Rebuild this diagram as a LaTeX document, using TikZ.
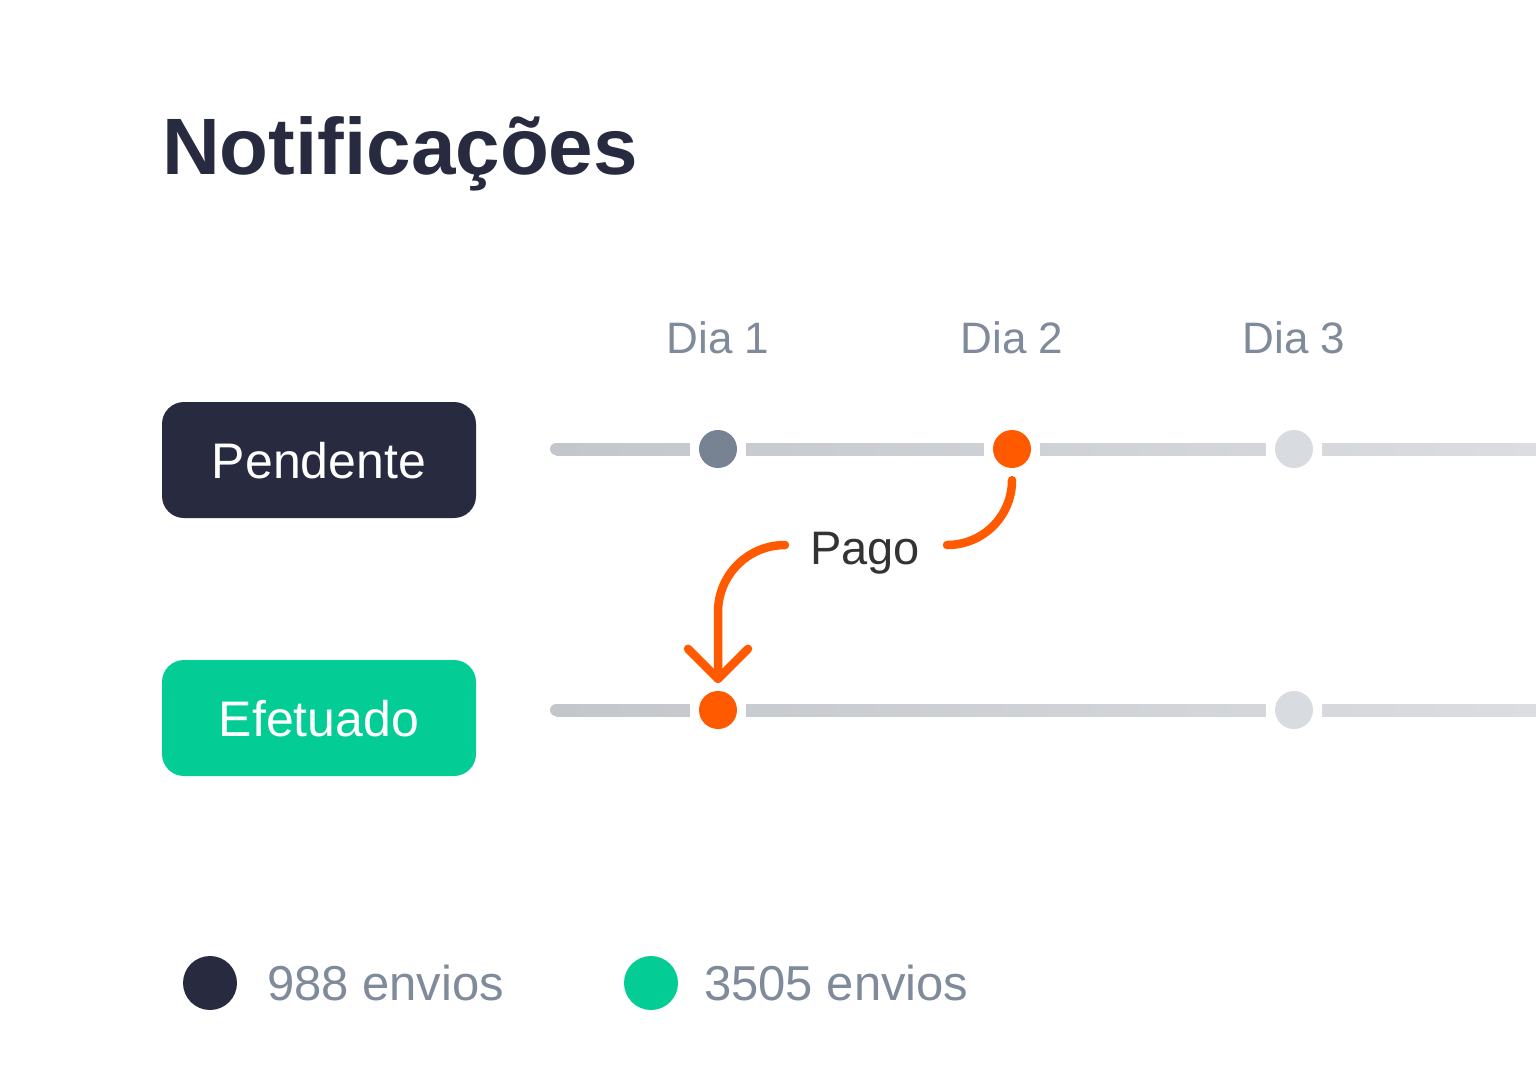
\documentclass[tikz,border=0pt]{standalone}
\usepackage{fontspec}
\setmainfont{Liberation Sans}
\usetikzlibrary{calc}
\definecolor{navy}{HTML}{282B40}
\definecolor{mint}{HTML}{03CD94}
\definecolor{orng}{HTML}{FF5A00}
\definecolor{slate}{HTML}{778292}
\definecolor{lightdot}{HTML}{D8DBDF}
\definecolor{graytext}{HTML}{7F8A9A}
\definecolor{pagotext}{HTML}{333333}
\definecolor{trackL}{HTML}{C3C6CB}
\definecolor{trackR}{HTML}{DBDDE0}
\tikzset{
  status/.style={rounded corners=22pt, minimum width=314pt, minimum height=116pt, inner sep=0pt,
    text=white, font=\fontsize{50}{60}\selectfont, text height=36pt, text depth=0pt},
  tdot/.style={circle, minimum size=38pt, inner sep=0pt, draw=none},
  daylabel/.style={anchor=base, inner sep=0pt, text=graytext, font=\fontsize{44}{52}\selectfont},
  legtext/.style={anchor=base west, inner sep=0pt, text=graytext, font=\fontsize{49}{58}\selectfont},
  legdot/.style={circle, minimum size=54pt, inner sep=0pt, draw=none},
  pay/.style={draw=orng, line width=8.5pt, line cap=round, line join=round},
  gap/.style={fill=white}
}
\begin{document}
\begin{tikzpicture}[x=1pt,y=-1pt]
\useasboundingbox[fill=white] (0,0) rectangle (1536,1080);

% title
\node[anchor=base west, inner sep=0pt, text=navy, font=\fontsize{80}{92}\selectfont\bfseries] (title) at (162,174) {Notificações};

% day labels
\node[daylabel] (dia1) at (718,353) {Dia 1};
\node[daylabel] (dia2) at (1012,353) {Dia 2};
\node[daylabel] (dia3) at (1294,353) {Dia 3};

% status boxes
\node[status, fill=navy] (pend) at (319,460) {Pendente};
\node[status, fill=mint] (efet) at (319,718) {Efetuado};

% tracks
\shade[left color=trackL, right color=trackR] (556,443) rectangle (1536,455);
\fill[trackL] (556,449) circle (6);
\shade[left color=trackL, right color=trackR] (556,704) rectangle (1536,716);
\fill[trackL] (556,710) circle (6);

% dots
\coordinate (c1) at (718,449);
\coordinate (c2) at (1012,449);
\coordinate (c3) at (1294,449);
\coordinate (k1) at (718,710);
\coordinate (k3) at (1294,710);
\foreach \c in {c1,c2,c3,k1,k3}{
  \fill[gap] ($(\c)+(-28,-8)$) rectangle ($(\c)+(28,8)$);
}
\node[tdot, fill=slate] (d1) at (c1) {};
\node[tdot, fill=orng] (d2) at (c2) {};
\node[tdot, fill=lightdot] (d3) at (c3) {};
\node[tdot, fill=orng] (e1) at (k1) {};
\node[tdot, fill=lightdot] (e3) at (k3) {};

% paid arrow
\node[anchor=base, inner sep=0pt, text=pagotext, font=\fontsize{47}{56}\selectfont] (pago) at (865,564) {Pago};
\coordinate (a1) at (947,545);
\coordinate (b0) at (785,545);
\coordinate (b1) at (718,612);
\coordinate (tip) at ([yshift=12pt]e1.north);
\draw[pay] ([yshift=-12pt]d2.south) .. controls +(0,36) and +(36,0) .. (a1);
\draw[pay] (b0) .. controls +(-37,0) and +(0,-37) .. (b1) -- (tip);
\draw[pay] ($(tip)+(-30,-30)$) -- (tip) -- ($(tip)+(30,-30)$);

% legend
\node[legdot, fill=navy] (l1) at (210,983) {};
\node[legtext] (t1) at (267,1000) {988 envios};
\node[legdot, fill=mint] (l2) at (651,983) {};
\node[legtext] (t2) at (704,1000) {3505 envios};
\end{tikzpicture}
\end{document}
